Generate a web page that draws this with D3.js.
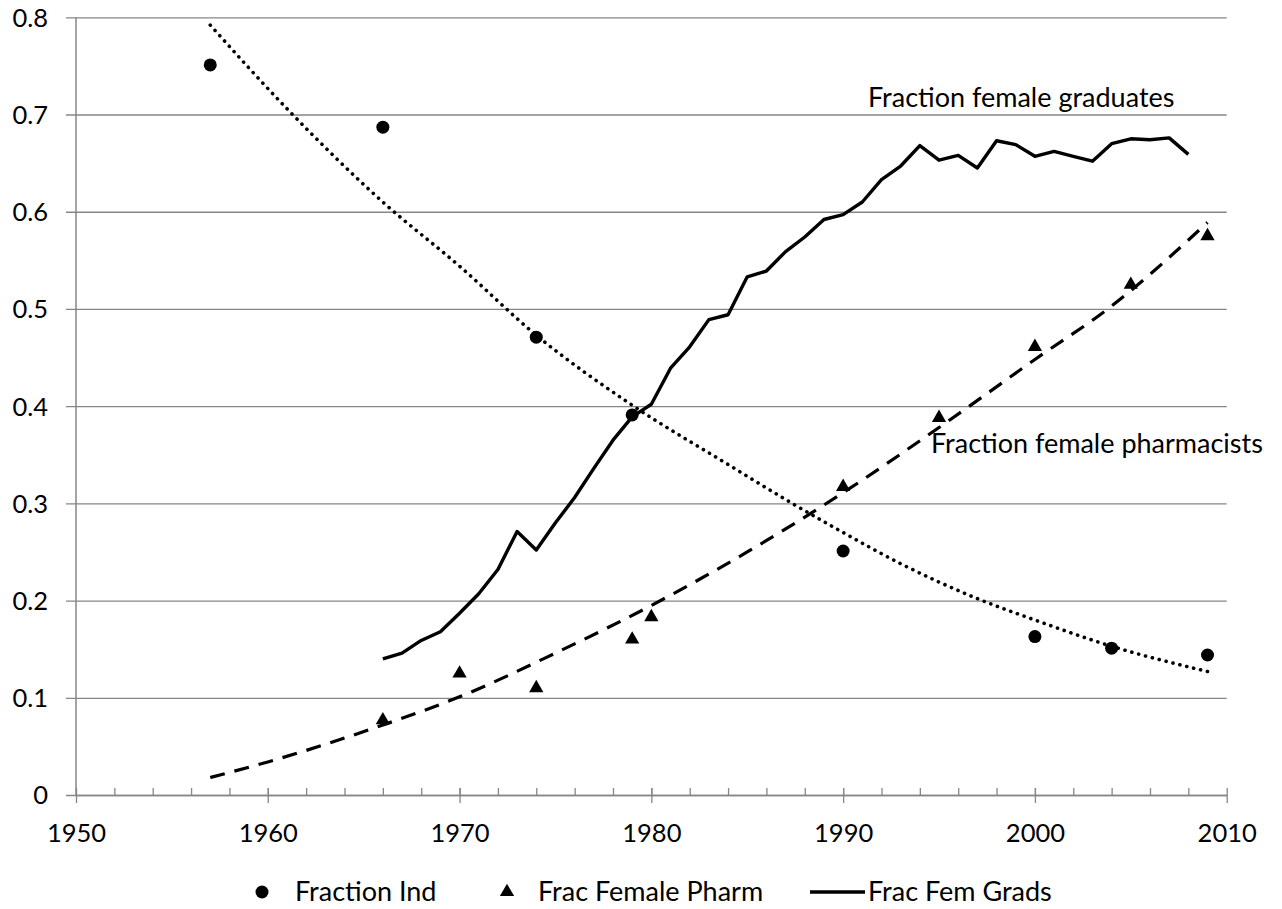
<!DOCTYPE html>
<html>
<head>
<meta charset="utf-8">
<script src="https://cdn.jsdelivr.net/npm/d3@7"></script>
<style>
body { margin: 0; background: #fff; }
text { font-family: Lato, "Open Sans", sans-serif; fill: #000; }
</style>
</head>
<body>
<div id="chart"></div>
<script>

// Fraction Ind (circles)
var indYears = [1957, 1966, 1974, 1979, 1990, 2000, 2004, 2009];
var indValues = [0.751, 0.687, 0.471, 0.391, 0.251, 0.163, 0.151, 0.144];

// trend line through Fraction Ind (dotted)
var indTrendYears = [1957, 1961, 1966, 1970, 1974, 1979, 1984, 1987, 1990, 1993, 1997, 2000, 2004, 2009];
var indTrendValues = [0.792, 0.706, 0.610, 0.544, 0.473, 0.401, 0.340, 0.304, 0.270, 0.238, 0.202, 0.180, 0.153, 0.127];

// Frac Female Pharm (triangles)
var pharmYears = [1966, 1970, 1974, 1979, 1980, 1990, 1995, 2000, 2005, 2009];
var pharmValues = [0.077, 0.125, 0.110, 0.160, 0.183, 0.317, 0.388, 0.461, 0.525, 0.575];

// trend line through Frac Female Pharm (dashed)
var pharmTrendYears = [1957, 1960, 1966, 1970, 1975, 1980, 1985, 1990, 1995, 2000, 2004, 2009];
var pharmTrendValues = [0.018, 0.034, 0.072, 0.101, 0.146, 0.195, 0.250, 0.311, 0.378, 0.448, 0.503, 0.589];

// Frac Fem Grads (solid line), one value per year 1966..2008
var gradYears = [1966,1967,1968,1969,1970,1971,1972,1973,1974,1975,1976,1977,1978,1979,1980,
  1981,1982,1983,1984,1985,1986,1987,1988,1989,1990,1991,1992,1993,1994,1995,1996,1997,1998,
  1999,2000,2001,2002,2003,2004,2005,2006,2007,2008];
var gradValues = [0.140,0.146,0.159,0.168,0.187,0.207,0.232,0.271,0.252,0.280,0.306,0.336,0.365,0.389,0.402,
  0.439,0.461,0.489,0.494,0.533,0.539,0.559,0.574,0.592,0.597,0.610,0.633,0.647,0.668,0.653,0.658,0.645,0.673,
  0.669,0.657,0.662,0.657,0.652,0.670,0.675,0.674,0.676,0.659];

var xTicks = [1950, 1960, 1970, 1980, 1990, 2000, 2010];
var yTicks = [0, 0.1, 0.2, 0.3, 0.4, 0.5, 0.6, 0.7, 0.8];
var legendLabels = ["Fraction Ind", "Frac Female Pharm", "Frac Fem Grads"];

function drawChart() {
var W = 1282, H = 909;
var mLeft = 76, mTop = 17.3, mRight = 1226.7, mBottom = 795;
var grey = "#868686";
var numSize = "25.5px", txtSize = "27px";

var svg = d3.select("#chart").append("svg")
    .attr("width", W)
    .attr("height", H);

var x = d3.scaleLinear().domain([1950, 2010]).range([mLeft, mRight]);
var y = d3.scaleLinear().domain([0, 0.8]).range([mBottom, mTop]);

// horizontal gridlines + y labels
svg.append("g")
    .attr("transform", "translate(" + mLeft + ",0)")
    .call(d3.axisLeft(y).tickValues(yTicks).tickSize(-(mRight - mLeft)).tickSizeOuter(0)
        .tickFormat(function(d) { return d === 0 ? "0" : d3.format(".1f")(d); }))
    .call(function(g) {
        g.select(".domain").remove();
        g.selectAll(".tick line").attr("stroke", grey).attr("stroke-width", 1.3).attr("x1", -10);
        g.selectAll(".tick text").attr("x", -28).attr("dy", "0.35em")
            .style("font-size", numSize);
    });

// y axis line
svg.append("line")
    .attr("x1", mLeft).attr("x2", mLeft)
    .attr("y1", mTop).attr("y2", mBottom)
    .attr("stroke", grey).attr("stroke-width", 1.5);

// minor ticks every 2 years, pointing up
svg.append("g")
    .attr("transform", "translate(0," + mBottom + ")")
    .call(d3.axisTop(x).tickValues(d3.range(1952, 2010, 2)).tickSize(7).tickFormat(""))
    .call(function(g) {
        g.select(".domain").remove();
        g.selectAll(".tick line").attr("stroke", grey).attr("stroke-width", 1.3);
    });

// x axis with major ticks
svg.append("g")
    .attr("transform", "translate(0," + mBottom + ")")
    .call(d3.axisBottom(x).tickValues(xTicks).tickSize(8).tickSizeOuter(0).tickFormat(d3.format("d")))
    .call(function(g) {
        g.select(".domain").attr("stroke", grey).attr("stroke-width", 1.5);
        g.selectAll(".tick line").attr("stroke", grey).attr("stroke-width", 1.3).attr("y1", -7);
        g.selectAll(".tick text").attr("y", 47).attr("dy", 0).style("font-size", numSize);
    });

var line = d3.line()
    .x(function(d) { return x(d[0]); })
    .y(function(d) { return y(d[1]); });

var smooth = d3.line()
    .curve(d3.curveMonotoneX)
    .x(function(d) { return x(d[0]); })
    .y(function(d) { return y(d[1]); });

// dashed trend (pharmacists)
svg.append("path")
    .datum(d3.zip(pharmTrendYears, pharmTrendValues))
    .attr("d", smooth)
    .attr("fill", "none")
    .attr("stroke", "#000")
    .attr("stroke-width", 3.2)
    .attr("stroke-dasharray", "15,10");

// dotted trend (fraction ind)
svg.append("path")
    .datum(d3.zip(indTrendYears, indTrendValues))
    .attr("d", smooth)
    .attr("fill", "none")
    .attr("stroke", "#000")
    .attr("stroke-width", 3.6)
    .attr("stroke-linecap", "round")
    .attr("stroke-dasharray", "0.1,7");

// solid line (graduates)
svg.append("path")
    .datum(d3.zip(gradYears, gradValues))
    .attr("d", line)
    .attr("fill", "none")
    .attr("stroke", "#000")
    .attr("stroke-width", 3.4)
    .attr("stroke-linejoin", "round");

// circles
svg.selectAll(".ind")
    .data(d3.zip(indYears, indValues))
    .enter().append("circle")
    .attr("class", "ind")
    .attr("cx", function(d) { return x(d[0]); })
    .attr("cy", function(d) { return y(d[1]); })
    .attr("r", 6.5)
    .attr("fill", "#000");

// triangles
var tri = d3.symbol().type(d3.symbolTriangle).size(88);
svg.selectAll(".pharm")
    .data(d3.zip(pharmYears, pharmValues))
    .enter().append("path")
    .attr("class", "pharm")
    .attr("d", tri)
    .attr("transform", function(d) { return "translate(" + x(d[0]) + "," + y(d[1]) + ")"; })
    .attr("fill", "#000");

// annotations
svg.append("text")
    .attr("x", 868).attr("y", 107)
    .style("font-size", txtSize)
    .text("Fraction female graduates");

svg.append("text")
    .attr("x", 931).attr("y", 453)
    .style("font-size", txtSize)
    .text("Fraction female pharmacists");

// legend
var leg = svg.append("g");
var legY = 892;
leg.append("circle").attr("cx", 262).attr("cy", legY).attr("r", 6.5).attr("fill", "#000");
leg.append("text").attr("x", 295).attr("y", legY).attr("dy", "0.35em").style("font-size", txtSize).text(legendLabels[0]);
leg.append("path").attr("d", tri).attr("transform", "translate(507," + legY + ")").attr("fill", "#000");
leg.append("text").attr("x", 538).attr("y", legY).attr("dy", "0.35em").style("font-size", txtSize).text(legendLabels[1]);
leg.append("line").attr("x1", 810).attr("x2", 865).attr("y1", legY).attr("y2", legY)
    .attr("stroke", "#000").attr("stroke-width", 3.4);
leg.append("text").attr("x", 868).attr("y", legY).attr("dy", "0.35em").style("font-size", txtSize).text(legendLabels[2]);
}

drawChart();

</script>
</body>
</html>
